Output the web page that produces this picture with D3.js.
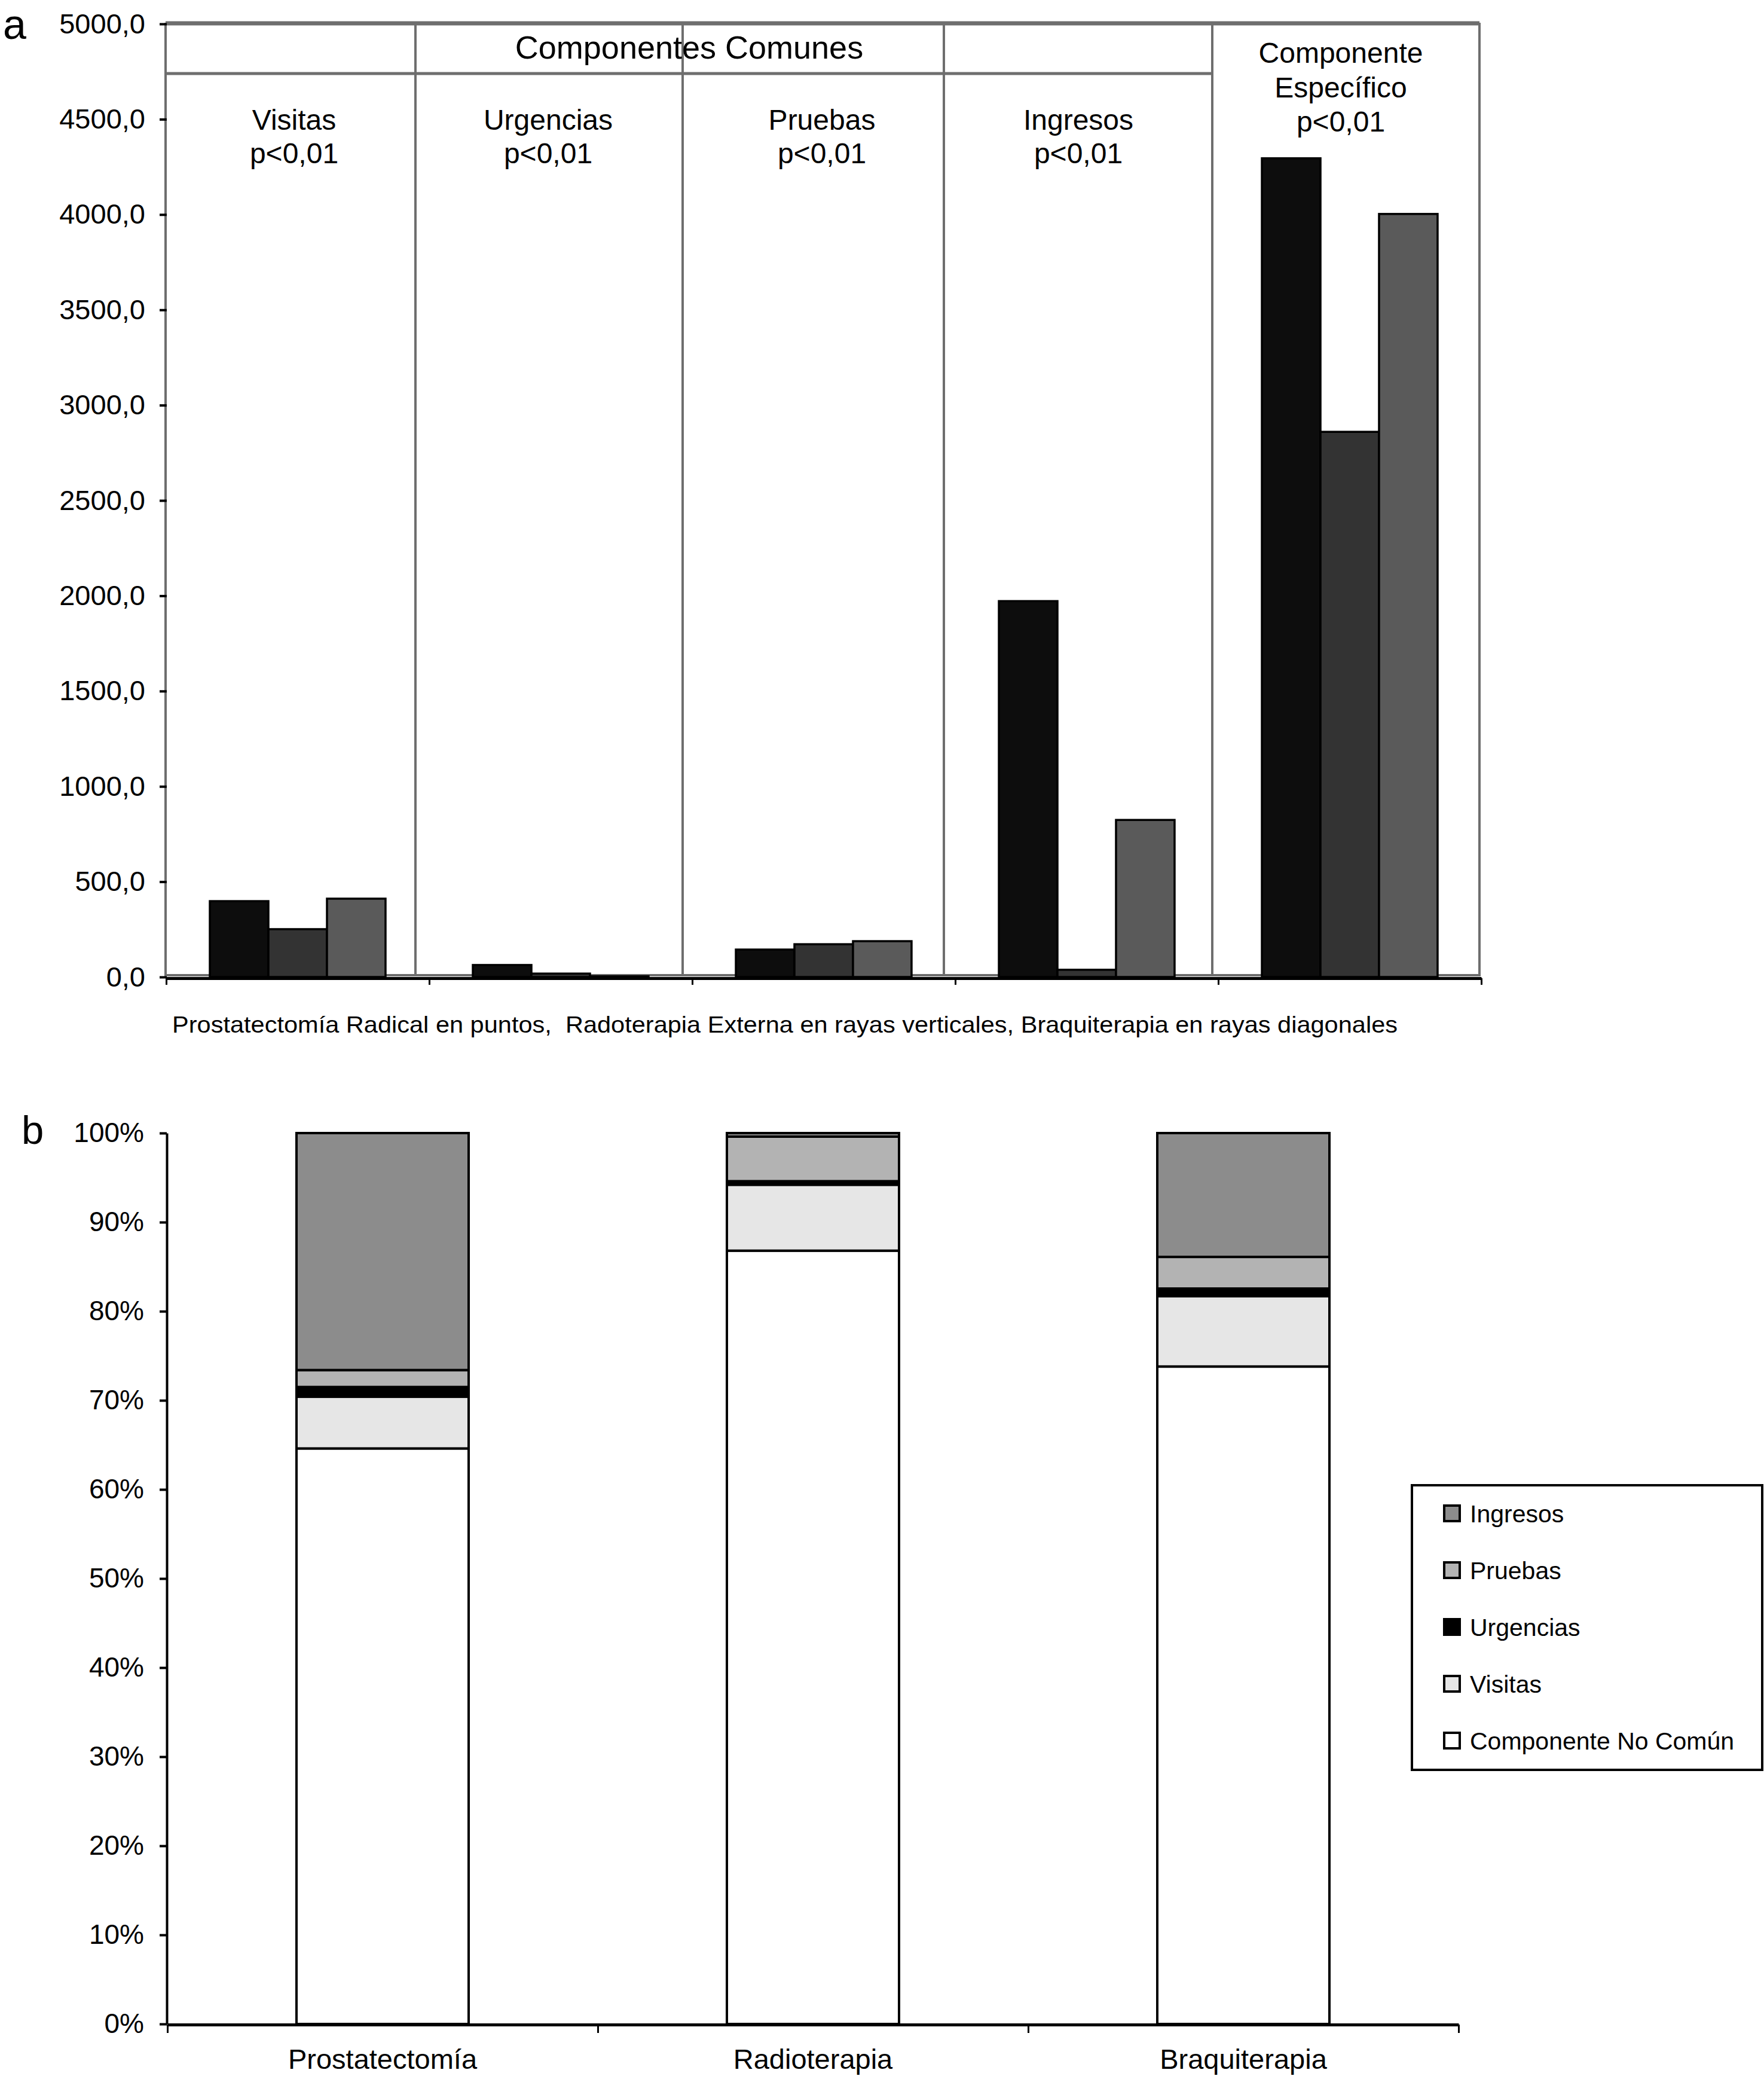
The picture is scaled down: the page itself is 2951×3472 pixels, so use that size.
<!DOCTYPE html>
<html>
<head>
<meta charset="utf-8">
<script src="https://cdn.jsdelivr.net/npm/d3@7"></script>
<style>
  body { margin: 0; background: #fff; }
  text { font-family: "Liberation Sans", Arial, sans-serif; fill: #000; }
</style>
</head>
<body>
<div id="chart"></div>
<script>
// ---- data, panel a (coste medio por componente)
const componentes = ["Visitas", "Urgencias", "Pruebas", "Ingresos", "Especifico"];
const tratamientosA = ["Prostatectomia", "Radioterapia", "Braquiterapia"];
const prostatectomia = [398, 63, 144, 1972, 4295];
const radioterapia = [251, 18, 172, 38, 2860];
const braquiterapia = [411, 4, 188, 824, 4003];
const yTicksA = [0, 500, 1000, 1500, 2000, 2500, 3000, 3500, 4000, 4500, 5000];
const panelLabels = [
  ["Visitas", "p<0,01"],
  ["Urgencias", "p<0,01"],
  ["Pruebas", "p<0,01"],
  ["Ingresos", "p<0,01"],
  ["Componente", "Específico", "p<0,01"]
];
const caption = "Prostatectomía Radical en puntos,  Radoterapia Externa en rayas verticales, Braquiterapia en rayas diagonales";

// ---- data, panel b (porcentaje de cada componente)
const tratamientosB = ["Prostatectomía", "Radioterapia", "Braquiterapia"];
const noComun = [64.6, 86.8, 73.8];
const visitas = [5.8, 7.4, 7.9];
const urgencias = [1.1, 0.4, 0.85];
const pruebas = [1.9, 5.0, 3.55];
const ingresos = [26.6, 0.4, 13.9];
const yTicksB = [0, 10, 20, 30, 40, 50, 60, 70, 80, 90, 100];

const W = 2951, H = 3472;
const svg = d3.select("#chart").append("svg")
  .attr("width", W).attr("height", H);

// ================= panel a =================
const xA = d3.scaleBand().domain(componentes).range([278, 2478]);
const xInner = d3.scaleBand().domain(tratamientosA)
  .range([xA.bandwidth() * 0.166, xA.bandwidth() * 0.834]);
const yA = d3.scaleLinear().domain([0, 5000]).range([1634, 40]);
const colorA = d3.scaleOrdinal().domain(tratamientosA).range(["#0d0d0d", "#333333", "#5a5a5a"]);
const seriesA = { Prostatectomia: prostatectomia, Radioterapia: radioterapia, Braquiterapia: braquiterapia };

// cajas grises de los paneles (anotaciones)
const panelEdges = [277, 695, 1142, 1579, 2028, 2475];
const boxTop = 40, boxBottom = 1631, headBottom = 123;
const gBox = svg.append("g").attr("fill", "none").attr("stroke", "#6e6e6e");
for (let i = 0; i < 5; i++) {
  gBox.append("rect")
    .attr("x", panelEdges[i]).attr("y", boxTop)
    .attr("width", panelEdges[i + 1] - panelEdges[i])
    .attr("height", boxBottom - boxTop)
    .attr("stroke-width", 4);
}
gBox.append("line")
  .attr("x1", panelEdges[0]).attr("x2", panelEdges[4])
  .attr("y1", headBottom).attr("y2", headBottom)
  .attr("stroke-width", 5);
gBox.append("line")
  .attr("x1", panelEdges[0]).attr("x2", panelEdges[5])
  .attr("y1", boxTop - 1).attr("y2", boxTop - 1)
  .attr("stroke-width", 7);

svg.append("text")
  .attr("x", 1153).attr("y", 98)
  .attr("text-anchor", "middle")
  .attr("font-size", 54)
  .text("Componentes Comunes");

const labelX = [492, 917, 1375, 1804, 2243];
panelLabels.forEach((lines, i) => {
  const y0 = lines.length === 3 ? 105 : 217;
  const step = lines.length === 3 ? 57.5 : 56;
  const t = svg.append("text")
    .attr("text-anchor", "middle")
    .attr("font-size", 48);
  lines.forEach((s, j) => {
    t.append("tspan").attr("x", labelX[i]).attr("y", y0 + j * step).text(s);
  });
});

// barras
const gBars = svg.append("g");
componentes.forEach((c, ci) => {
  gBars.selectAll(null)
    .data(tratamientosA.map(t => ({ t: t, v: seriesA[t][ci] })))
    .join("rect")
    .attr("x", d => xA(c) + xInner(d.t))
    .attr("y", d => yA(d.v))
    .attr("width", xInner.bandwidth())
    .attr("height", d => yA(0) - yA(d.v))
    .attr("fill", d => colorA(d.t))
    .attr("stroke", "#000")
    .attr("stroke-width", 3.5);
});

// eje y
const fmtA = d3.formatLocale({ decimal: ",", thousands: "", grouping: [3], currency: ["", ""] }).format(".1f");
const axA = svg.append("g")
  .attr("transform", "translate(279,0)")
  .call(d3.axisLeft(yA).tickValues(yTicksA).tickFormat(fmtA).tickSize(12).tickPadding(24));
axA.select(".domain").remove();
axA.selectAll(".tick line").attr("stroke", "#000").attr("stroke-width", 4);
axA.selectAll(".tick text").attr("font-size", 47).attr("font-family", "Liberation Sans, Arial, sans-serif");

// eje x (marcas en los bordes de categoria)
const xEdgeA = d3.scaleLinear().domain([0, componentes.length]).range(xA.range());
const axXA = svg.append("g")
  .attr("transform", "translate(0,1636)")
  .call(d3.axisBottom(xEdgeA).tickValues(d3.range(componentes.length + 1)).tickFormat("").tickSize(11).tickSizeOuter(0));
axXA.select(".domain").attr("stroke", "#000").attr("stroke-width", 5);
axXA.selectAll(".tick line").attr("stroke", "#000").attr("stroke-width", 3);

svg.append("text")
  .attr("x", 288).attr("y", 1727)
  .attr("font-size", 39)
  .style("white-space", "pre")
  .attr("textLength", 2050).attr("lengthAdjust", "spacingAndGlyphs")
  .text(caption);

svg.append("text").attr("x", 5).attr("y", 65).attr("font-size", 70).text("a");

// ================= panel b =================
const keysB = ["Componente No Común", "Visitas", "Urgencias", "Pruebas", "Ingresos"];
const valsB = [noComun, visitas, urgencias, pruebas, ingresos];
const tableB = tratamientosB.map((t, i) => {
  const row = { t: t };
  keysB.forEach((k, j) => { row[k] = valsB[j][i]; });
  return row;
});
const colorB = d3.scaleOrdinal().domain(keysB).range(["#ffffff", "#e6e6e6", "#000000", "#b3b3b3", "#8c8c8c"]);

const xB = d3.scaleBand().domain(tratamientosB).range([280, 2440]).paddingInner(0.6).paddingOuter(0.3);
const yB = d3.scaleLinear().domain([0, 100]).range([3385, 1895]);
const stacked = d3.stack().keys(keysB)(tableB);

svg.append("g").selectAll("g")
  .data(stacked)
  .join("g")
  .attr("fill", d => colorB(d.key))
  .selectAll("rect")
  .data(d => d)
  .join("rect")
  .attr("x", d => xB(d.data.t))
  .attr("y", d => yB(d[1]))
  .attr("width", xB.bandwidth())
  .attr("height", d => yB(d[0]) - yB(d[1]))
  .attr("stroke", "#000")
  .attr("stroke-width", 4);

const axB = svg.append("g")
  .attr("transform", "translate(279,0)")
  .call(d3.axisLeft(yB).tickValues(yTicksB).tickFormat(d => d + "%").tickSize(12).tickSizeOuter(0).tickPadding(26));
axB.select(".domain").attr("stroke", "#000").attr("stroke-width", 4);
axB.selectAll(".tick line").attr("stroke", "#000").attr("stroke-width", 4);
axB.selectAll(".tick text").attr("font-size", 46).attr("font-family", "Liberation Sans, Arial, sans-serif");

const xEdgeB = d3.scaleLinear().domain([0, tratamientosB.length]).range(xB.range());
const axXB = svg.append("g")
  .attr("transform", "translate(0,3386)")
  .call(d3.axisBottom(xEdgeB).tickValues(d3.range(tratamientosB.length + 1)).tickFormat("").tickSize(14).tickSizeOuter(0));
axXB.select(".domain").attr("stroke", "#000").attr("stroke-width", 5);
axXB.selectAll(".tick line").attr("stroke", "#000").attr("stroke-width", 3);

svg.append("g").selectAll("text")
  .data(tratamientosB)
  .join("text")
  .attr("x", d => xB(d) + xB.bandwidth() / 2)
  .attr("y", 3460)
  .attr("text-anchor", "middle")
  .attr("font-size", 47)
  .text(d => d);

svg.append("text").attr("x", 36).attr("y", 1913).attr("font-size", 67).text("b");

// leyenda
const leg = svg.append("g");
leg.append("rect")
  .attr("x", 2362).attr("y", 2484).attr("width", 586).attr("height", 476)
  .attr("fill", "#fff").attr("stroke", "#000").attr("stroke-width", 4);
const legKeys = keysB.slice().reverse();
const legY = d3.scalePoint().domain(legKeys).range([2531, 2911]);
const item = leg.selectAll("g.item")
  .data(legKeys)
  .join("g")
  .attr("class", "item")
  .attr("transform", d => `translate(2416,${legY(d)})`);
item.append("rect")
  .attr("x", 0).attr("y", -13).attr("width", 26).attr("height", 26)
  .attr("fill", d => colorB(d)).attr("stroke", "#000").attr("stroke-width", 4);
item.append("text")
  .attr("x", 43).attr("dy", "0.36em")
  .attr("font-size", 41)
  .text(d => d);
</script>
</body>
</html>
